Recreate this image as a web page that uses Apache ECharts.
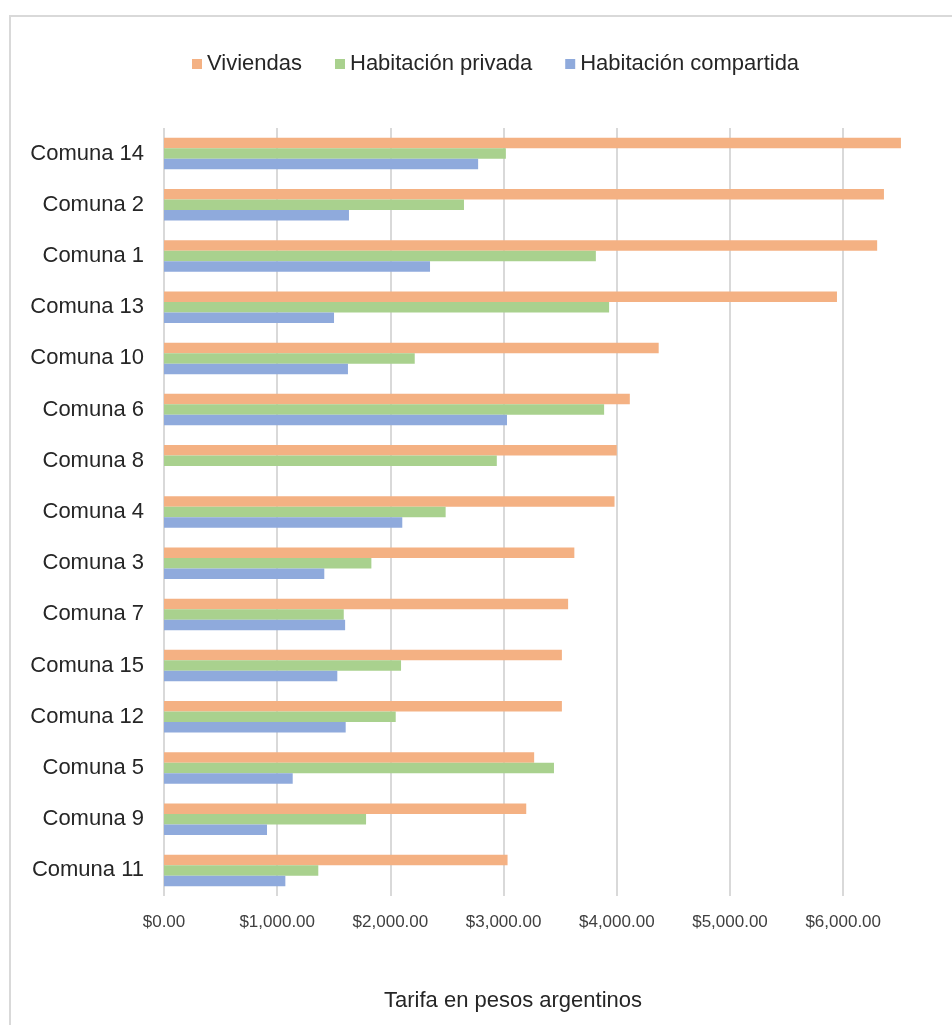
<!DOCTYPE html>
<html>
<head>
<meta charset="utf-8">
<script src="https://cdn.jsdelivr.net/npm/echarts@6/dist/echarts.min.js"></script>
<style>
html,body{margin:0;padding:0;background:#fff;overflow:hidden;}
#chart{width:1000px;height:1025px;}
</style>
</head>
<body>
<div id="chart"></div>
<script>
const categories = ["Comuna 14","Comuna 2","Comuna 1","Comuna 13","Comuna 10","Comuna 6","Comuna 8","Comuna 4","Comuna 3","Comuna 7","Comuna 15","Comuna 12","Comuna 5","Comuna 9","Comuna 11"];
const viviendas = [6510,6360,6300,5945,4370,4115,4000,3980,3625,3570,3515,3515,3270,3200,3035];
const habPrivada = [3020,2650,3815,3932,2215,3888,2940,2488,1832,1588,2094,2047,3445,1785,1363];
const habCompartida = [2775,1634,2350,1502,1625,3030,null,2105,1416,1600,1531,1605,1137,910,1072];
const seriesNames = ["Viviendas","Habitación privada","Habitación compartida"];
const tickValues = [0,1000,2000,3000,4000,5000,6000,7000];

const chart = echarts.init(document.getElementById('chart'));
const colors = ['#F4B183','#A9D18E','#8FAADC'];
function fmt(v){
  return '$' + v.toLocaleString('en-US',{minimumFractionDigits:2,maximumFractionDigits:2});
}
const option = {
  animation:false,
  color: colors,
  title:{
    text:'Tarifa en pesos argentinos',
    left:379, top:985,
    textStyle:{fontFamily:'Liberation Sans',fontSize:22,fontWeight:'normal',color:'#262626'}
  },
  legend:{
    data:seriesNames,
    left:187, top:48,
    icon:'rect', itemWidth:10, itemHeight:10, itemGap:33,
    textStyle:{fontFamily:'Liberation Sans',fontSize:22,color:'#262626'}
  },
  graphic:[{
    type:'rect', silent:true, z:-10,
    shape:{x:10,y:16,width:1000,height:1030},
    style:{fill:'none',stroke:'#d9d9d9',lineWidth:2}
  }],
  grid:{left:164,right:43.6,top:128,bottom:129},
  xAxis:{
    type:'value', min:0, max:tickValues[tickValues.length-1], interval:1000,
    axisLine:{show:false}, axisTick:{show:false},
    splitLine:{show:true,lineStyle:{color:'#d9d9d9',width:2}},
    axisLabel:{
      margin:18,
      fontFamily:'Liberation Sans',fontSize:17,color:'#404040',
      formatter:function(v){ return v>=7000 ? '' : fmt(v); }
    }
  },
  yAxis:{
    type:'category', data:categories, inverse:true,
    axisLine:{show:false}, axisTick:{show:false},
    axisLabel:{margin:20,padding:[4,0,0,0],fontFamily:'Liberation Sans',fontSize:22,color:'#262626'}
  },
  series:[
    {name:seriesNames[0],type:'bar',data:viviendas,barWidth:10.5,barGap:'0%'},
    {name:seriesNames[1],type:'bar',data:habPrivada,barWidth:10.5,barGap:'0%'},
    {name:seriesNames[2],type:'bar',data:habCompartida,barWidth:10.5,barGap:'0%'}
  ]
};
chart.setOption(option);
</script>
</body>
</html>
